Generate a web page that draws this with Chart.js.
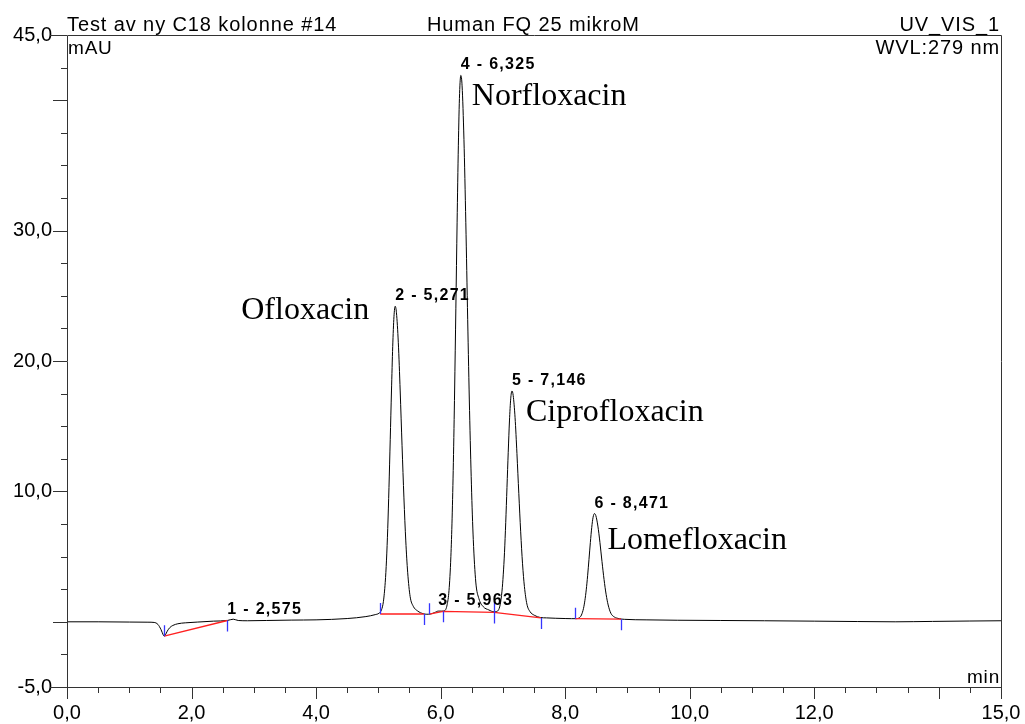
<!DOCTYPE html>
<html>
<head>
<meta charset="utf-8">
<script src="https://cdn.jsdelivr.net/npm/chart.js@4.4.1/dist/chart.umd.min.js"></script>
<style>
    html, body { margin: 0; padding: 0; background: #fff; }
    #wrap { width: 1025px; height: 724px; }
</style>
</head>
<body>
<div id="wrap"><canvas id="chromChart" width="1025" height="724"></canvas></div>
<script>
// ==================== DATA ====================
// retention time (min) / signal (mAU)
const timeMin = [
    0.00, 0.50, 1.00, 1.30, 1.40, 1.46, 1.51, 1.545, 1.56, 1.58, 1.61, 1.65, 1.70, 1.78, 1.90, 2.10, 2.35, 2.575, 2.67, 2.75, 2.90, 3.20, 3.60, 4.00, 4.50, 4.80, 4.95,
    5.011, 5.051, 5.081, 5.111, 5.131, 5.151, 5.171, 5.191, 5.211, 5.231, 5.251, 5.271, 5.291, 5.321, 5.351, 5.381, 5.411, 5.441, 5.471, 5.511, 5.561, 5.631, 5.721,
    5.78, 5.84, 5.90, 5.963, 6.02,
    6.065, 6.105, 6.135, 6.165, 6.185, 6.205, 6.225, 6.245, 6.265, 6.285, 6.305, 6.325, 6.345, 6.375, 6.405, 6.435, 6.465, 6.495, 6.525, 6.565, 6.615, 6.685, 6.775, 6.86,
    6.886, 6.926, 6.956, 6.986, 7.006, 7.026, 7.046, 7.066, 7.086, 7.106, 7.126, 7.146, 7.166, 7.196, 7.226, 7.256, 7.286, 7.316, 7.346, 7.386, 7.436, 7.506, 7.60,
    7.70, 7.85, 8.00, 8.10,
    8.185, 8.229, 8.262, 8.295, 8.317, 8.339, 8.361, 8.383, 8.405, 8.427, 8.449, 8.471, 8.493, 8.526, 8.559, 8.592, 8.625, 8.658, 8.691, 8.735, 8.79, 8.87, 8.95,
    9.30, 9.80, 10.50, 11.20, 12.00, 12.70, 13.30, 13.90, 14.50, 15.00
];
const signalMAU = [
    0.00, 0.00, -0.02, -0.03, -0.05, -0.20, -0.60, -1.00, -1.10, -1.00, -0.72, -0.45, -0.28, -0.15, -0.08, -0.02, 0.05, 0.10, 0.20, 0.10, 0.08, 0.10, 0.13, 0.15, 0.25, 0.40, 0.55,
    0.66, 0.92, 1.54, 3.03, 4.73, 7.16, 10.3, 13.96, 17.7, 21.1, 23.4, 24.2, 23.7, 21.4, 17.7, 13.5, 9.5, 6.2, 3.8, 1.93, 1.19, 0.83, 0.62,
    0.58, 0.60, 0.70, 0.82, 0.82,
    0.85, 1.31, 2.40, 4.99, 7.95, 12.2, 17.7, 24.0, 30.6, 36.5, 40.5, 41.9, 41.1, 37.0, 30.6, 23.2, 16.2, 10.5, 6.3, 3.05, 1.78, 1.16, 0.91, 0.76,
    0.78, 0.88, 1.30, 2.35, 3.6, 5.3, 7.6, 10.3, 13.0, 15.4, 17.1, 17.7, 17.35, 15.65, 12.9, 9.85, 6.9, 4.45, 2.7, 1.36, 0.78, 0.50, 0.33,
    0.30, 0.27, 0.25, 0.24,
    0.24, 0.31, 0.52, 1.03, 1.62, 2.45, 3.53, 4.78, 6.08, 7.23, 8.02, 8.3, 8.14, 7.34, 6.08, 4.62, 3.24, 2.11, 1.29, 0.65, 0.37, 0.24, 0.19,
    0.15, 0.12, 0.10, 0.08, 0.05, 0.02, 0.00, 0.03, 0.06, 0.08
];

// integration baselines (null y = gap)
const baseX = [1.56, 2.575, 2.575, 5.03, 5.73, 5.73, 5.82, 6.04, 6.86, 7.61, 7.61, 8.16, 8.90];
const baseY = [-1.10, 0.10, null, 0.60, 0.60, null, 0.58, 0.80, 0.72, 0.30, null, 0.24, 0.20];

// peak delimiters: 1 = start (up), -1 = end (down)
const delimX = [1.56, 2.575, 5.03, 5.73, 5.82, 6.04, 6.86, 6.86, 7.61, 8.16, 8.90];
const delimY = [-1.10, 0.10, 0.60, 0.60, 0.58, 0.80, 0.72, 0.72, 0.30, 0.24, 0.20];
const delimDir = [1, -1, 1, -1, 1, -1, 1, -1, -1, 1, -1];

// peaks
const peakRT = [2.575, 5.271, 5.963, 6.325, 7.146, 8.471];
const peakTop = [0.10, 24.2, 0.82, 41.9, 17.7, 8.3];
const peakNames = ['', 'Ofloxacin', '', 'Norfloxacin', 'Ciprofloxacin', 'Lomefloxacin'];

// axes
const xTickVals = [];
for (let v = 0; v <= 15; v += 0.5) xTickVals.push(v);
const xLabelVals = [0, 2, 4, 6, 8, 10, 12, 15];
const yTickVals = [];
for (let v = -5; v <= 45; v += 2.5) yTickVals.push(v);
const yLabelVals = [-5, 10, 20, 30, 45];

const headerLeft = 'Test av ny C18 kolonne #14';
const headerMid = 'Human FQ 25 mikroM';
const headerRight = 'UV_VIS_1';
const yUnit = 'mAU';
const wvlText = 'WVL:279 nm';
const xUnit = 'min';

// ==================== HELPERS ====================
const SANS = "'Liberation Sans', Arial, sans-serif";
const SERIF = "'Liberation Serif', 'Times New Roman', serif";
const fmt = (v, d) => v.toFixed(d).replace('.', ',');

// name placement relative to apex (px)
const nameLayout = {
    1: { dx: -26, dy: 13, align: 'right' },
    3: { dx: 11, dy: 30, align: 'left' },
    4: { dx: 14, dy: 30, align: 'left' },
    5: { dx: 13, dy: 35, align: 'left' }
};

const decorPlugin = {
    id: 'chromDecor',
    afterDatasetsDraw(chart) {
        const { ctx, chartArea: a, scales: { x, y } } = chart;
        ctx.save();

        // frame
        ctx.strokeStyle = '#333';
        ctx.lineWidth = 1;
        ctx.beginPath();
        ctx.moveTo(a.left + 0.5, a.top + 0.5);
        ctx.lineTo(a.left + 0.5, a.bottom + 0.5);
        ctx.lineTo(a.right + 0.5, a.bottom + 0.5);
        ctx.lineTo(a.right + 0.5, a.top + 0.5);
        ctx.closePath();
        ctx.stroke();

        // y ticks
        ctx.beginPath();
        yTickVals.forEach(v => {
            const py = Math.round(y.getPixelForValue(v)) + 0.5;
            let len = 6;
            if (v % 10 === 0) len = 14;
            if (v === 45 || v === -5) len = 17;
            ctx.moveTo(a.left - len, py);
            ctx.lineTo(a.left, py);
        });
        // x ticks
        xTickVals.forEach(v => {
            const px = Math.round(x.getPixelForValue(v)) + 0.5;
            const len = (v % 2 === 0 || v === 15) ? 12 : 6;
            ctx.moveTo(px, a.bottom);
            ctx.lineTo(px, a.bottom + len);
        });
        ctx.stroke();

        // peak delimiters
        ctx.strokeStyle = '#3535ff';
        ctx.lineWidth = 1.3;
        ctx.beginPath();
        delimX.forEach((t, i) => {
            const px = Math.round(x.getPixelForValue(t)) + 0.5;
            const py = y.getPixelForValue(delimY[i]);
            ctx.moveTo(px, py);
            ctx.lineTo(px, py - delimDir[i] * 11);
        });
        ctx.stroke();

        // peak labels
        ctx.fillStyle = '#000';
        ctx.textBaseline = 'alphabetic';
        ctx.textAlign = 'left';
        ctx.font = 'bold 16px ' + SANS;
        ctx.letterSpacing = '1.3px';
        peakRT.forEach((t, i) => {
            const px = x.getPixelForValue(t);
            const py = y.getPixelForValue(peakTop[i]);
            ctx.fillText(`${i + 1} - ${fmt(t, 3)}`, px, py - 6);
        });

        // compound names
        ctx.letterSpacing = '0px';
        ctx.font = '32px ' + SERIF;
        peakNames.forEach((n, i) => {
            if (!n) return;
            const L = nameLayout[i];
            const px = x.getPixelForValue(peakRT[i]);
            const py = y.getPixelForValue(peakTop[i]);
            ctx.textAlign = L.align;
            ctx.fillText(n, px + L.dx, py + L.dy);
        });

        // header / units
        ctx.font = '20px ' + SANS;
        ctx.letterSpacing = '0.9px';
        ctx.textAlign = 'left';
        ctx.fillText(headerLeft, a.left, a.top - 4);
        ctx.fillText(headerMid, 427, a.top - 4);
        ctx.textAlign = 'right';
        ctx.fillText(headerRight, a.right - 1, a.top - 4);
        ctx.fillText(wvlText, a.right - 1, a.top + 19);
        ctx.font = '19px ' + SANS;
        ctx.letterSpacing = '0.8px';
        ctx.fillText(xUnit, a.right - 1, a.bottom - 4);
        ctx.textAlign = 'left';
        ctx.fillText(yUnit, a.left + 1, a.top + 19);

        ctx.restore();
    }
};

// ==================== CHART ====================
Chart.defaults.font.family = SANS;
Chart.defaults.color = '#000';

const ctxChrom = document.getElementById('chromChart').getContext('2d');

const chromChart = new Chart(ctxChrom, {
    type: 'line',
    data: {
        datasets: [{
            label: 'baseline',
            data: baseX.map((t, i) => ({ x: t, y: baseY[i] })),
            borderColor: '#ff2020',
            borderWidth: 1.3,
            pointRadius: 0,
            spanGaps: false,
            fill: false
        }, {
            label: 'UV_VIS_1',
            data: timeMin.map((t, i) => ({ x: t, y: signalMAU[i] })),
            borderColor: '#000',
            borderWidth: 1,
            pointRadius: 0,
            cubicInterpolationMode: 'monotone',
            fill: false
        }]
    },
    options: {
        responsive: false,
        animation: false,
        devicePixelRatio: 1,
        layout: { padding: { top: 35, right: 24, left: 0, bottom: 0 } },
        plugins: {
            legend: { display: false },
            tooltip: { enabled: false }
        },
        scales: {
            x: {
                type: 'linear',
                min: 0,
                max: 15,
                grid: { display: false, drawTicks: false },
                border: { display: false },
                afterBuildTicks: s => { s.ticks = xTickVals.map(v => ({ value: v })); },
                afterFit: s => {
                    s.height = 37;
                    s.paddingLeft = 0;
                    s.paddingRight = 0;
                },
                ticks: {
                    autoSkip: false,
                    maxRotation: 0,
                    padding: 14,
                    font: { size: 20 },
                    callback: v => xLabelVals.includes(v) ? fmt(v, 1) : ''
                }
            },
            y: {
                type: 'linear',
                min: -5,
                max: 45,
                grid: { display: false, drawTicks: false },
                border: { display: false },
                afterBuildTicks: s => { s.ticks = yTickVals.map(v => ({ value: v })); },
                afterFit: s => {
                    s.width = 67;
                    s.paddingTop = 0;
                    s.paddingBottom = 0;
                },
                ticks: {
                    autoSkip: false,
                    padding: 15,
                    font: { size: 20 },
                    callback: v => yLabelVals.includes(v) ? fmt(v, 1) : ''
                }
            }
        }
    },
    plugins: [decorPlugin]
});
</script>
</body>
</html>
